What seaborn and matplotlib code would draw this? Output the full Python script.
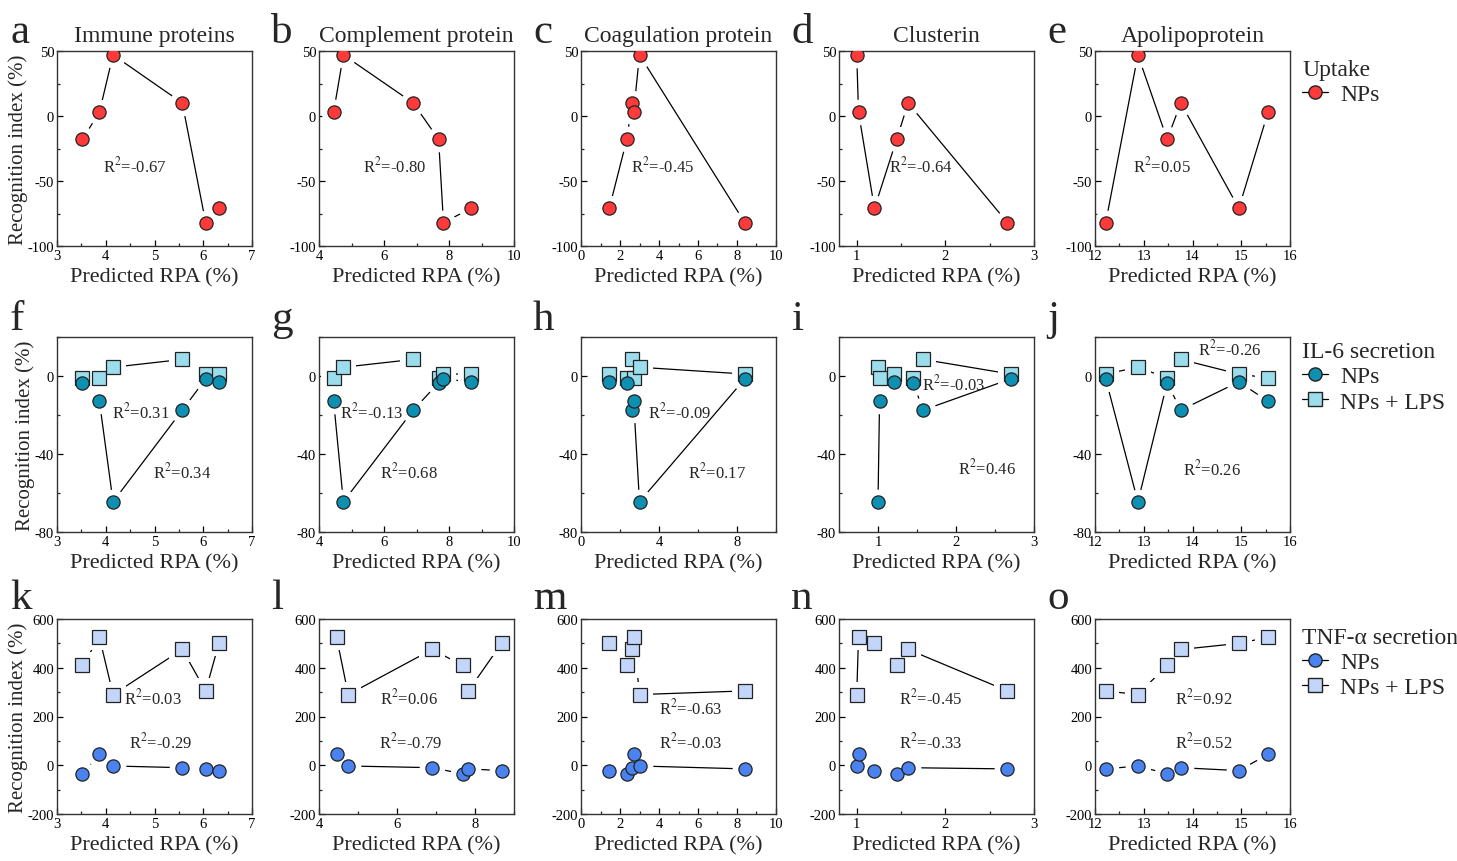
import numpy as np
import pandas as pd
import matplotlib
matplotlib.use("Agg")
import matplotlib.pyplot as plt
from matplotlib.lines import Line2D
from matplotlib.ticker import MultipleLocator
import seaborn as sns

sns.set_theme(style="white")
plt.rcParams['font.family'] = ['Liberation Serif', 'DejaVu Serif']
plt.rcParams['mathtext.fontset'] = 'stix'
plt.rcParams['axes.unicode_minus'] = False

# six nanoparticles (A..F), predicted RPA (%) per protein class
nps = ['A', 'B', 'C', 'D', 'E', 'F']
proteins = ['Immune proteins', 'Complement protein', 'Coagulation protein', 'Clusterin', 'Apolipoprotein']
rpa_immune = [4.15, 5.57, 3.87, 3.52, 6.32, 6.05]
rpa_complement = [4.75, 6.90, 4.45, 7.68, 8.68, 7.83]
rpa_coagulation = [3.00, 2.62, 2.70, 2.35, 1.45, 8.40]
rpa_clusterin = [1.00, 1.58, 1.02, 1.45, 1.20, 2.70]
rpa_apo = [12.88, 13.76, 15.55, 13.48, 14.95, 12.22]

# recognition index (%)
uptake_np = [47, 10, 3, -18, -71, -82]
il6_np = [-64.5, -17.5, -13, -3.5, -3, -1.5]
il6_lps = [4.5, 8.5, -1, -1, 1, 1]
tnf_np = [-3, -10, 45, -35, -22, -15]
tnf_lps = [290, 475, 525, 410, 500, 305]

# R2 labels per panel
r2_uptake = ['-0.67', '-0.80', '-0.45', '-0.64', '0.05']
r2_il6_np = ['0.34', '0.68', '0.17', '0.46', '0.26']
r2_il6_lps = ['0.31', '-0.13', '-0.09', '-0.03', '-0.26']
r2_tnf_np = ['-0.29', '-0.79', '-0.03', '-0.33', '0.52']
r2_tnf_lps = ['0.03', '0.06', '-0.63', '-0.45', '0.92']

letters = list('abcdefghijklmno')

df = pd.DataFrame({'np': nps,
                   'Immune proteins': rpa_immune,
                   'Complement protein': rpa_complement,
                   'Coagulation protein': rpa_coagulation,
                   'Clusterin': rpa_clusterin,
                   'Apolipoprotein': rpa_apo,
                   'uptake': uptake_np, 'il6_np': il6_np, 'il6_lps': il6_lps,
                   'tnf_np': tnf_np, 'tnf_lps': tnf_lps})

RED = '#FF3A3A'
TEAL = '#0E90B2'
CYAN = '#9BDDEC'
BLUE = '#4A83F0'
LAV = '#C3D6FA'
EDGE = '#222222'

# x-axis settings per column and row: (lim, major, minor)
xset = {
    0: [((3, 7), 1, 0.5)] * 3,
    1: [((4, 10), 2, 1), ((4, 10), 2, 1), ((4, 9), 2, 1)],
    2: [((0, 10), 2, 1), ((0, 10), 4, 2), ((0, 10), 2, 1)],
    3: [((0.8, 3), 1, 0.5), ((0.5, 3), 1, 0.5), ((0.8, 3), 1, 0.5)],
    4: [((12, 16), 1, 0.5)] * 3,
}
yset = [((-100, 50), 50, 25), ((-80, 20), 40, 20), ((-200, 600), 200, 100)]

rows = [
    [('uptake', RED, 'o')],
    [('il6_lps', CYAN, 's'), ('il6_np', TEAL, 'o')],
    [('tnf_lps', LAV, 's'), ('tnf_np', BLUE, 'o')],
]
r2_pos = [
    {'uptake': [(0.40, 0.415), (0.39, 0.415), (0.42, 0.415), (0.42, 0.415), (0.345, 0.415)]},
    {'il6_lps': [(0.43, 0.62), (0.27, 0.62), (0.505, 0.62), (0.59, 0.76), (0.69, 0.94)],
     'il6_np': [(0.64, 0.31), (0.46, 0.31), (0.70, 0.31), (0.76, 0.33), (0.60, 0.325)]},
    {'tnf_lps': [(0.49, 0.60), (0.46, 0.60), (0.56, 0.545), (0.47, 0.60), (0.56, 0.60)],
     'tnf_np': [(0.53, 0.37), (0.47, 0.37), (0.56, 0.37), (0.47, 0.37), (0.56, 0.37)]},
]
r2_text = [
    {'uptake': r2_uptake},
    {'il6_lps': r2_il6_lps, 'il6_np': r2_il6_np},
    {'tnf_lps': r2_tnf_lps, 'tnf_np': r2_tnf_np},
]

fig = plt.figure(figsize=(14.57, 8.62), dpi=100)
W, H = 1457, 862
col_left = [57, 319, 581, 839, 1095]
row_top = [52, 338, 620]
aw, ah = 195, 195
leg_y = [1.03, 1.05, 1.03]

for r in range(3):
    for c in range(5):
        ax = fig.add_axes([col_left[c] / W, 1 - (row_top[r] + ah) / H, aw / W, ah / H])
        xcol = proteins[c]
        d = df.sort_values(xcol)
        for key, color, mk in rows[r]:
            sns.lineplot(data=d, x=xcol, y=key, sort=True, color='black', lw=0.9,
                         ax=ax, zorder=1, legend=False)
        for key, color, mk in rows[r]:
            ms = 9.5 if mk == 'o' else 10
            ax.plot(d[xcol], d[key], ls='none', marker=mk, ms=ms + 9, mfc='white',
                    mec='white', mew=0, zorder=2)
        for key, color, mk in rows[r]:
            ms = 9.5 if mk == 'o' else 10
            ax.plot(d[xcol], d[key], ls='none', marker=mk, ms=ms, mfc=color,
                    mec=EDGE, mew=0.9, zorder=3)
        for key in r2_text[r]:
            px, py = r2_pos[r][key][c]
            ax.text(px, py, 'R$^2$=' + r2_text[r][key][c], transform=ax.transAxes,
                    ha='center', va='center', fontsize=12, zorder=4)

        (x0, x1), xmaj, xmin = xset[c][r]
        (y0, y1), ymaj, ymin = yset[r]
        ax.set_xlim(x0, x1)
        ax.set_ylim(y0, y1)
        ax.xaxis.set_major_locator(MultipleLocator(xmaj))
        ax.xaxis.set_minor_locator(MultipleLocator(xmin))
        ax.yaxis.set_major_locator(MultipleLocator(ymaj))
        ax.yaxis.set_minor_locator(MultipleLocator(ymin))
        ax.tick_params(which='major', direction='in', length=4, width=0.9, labelsize=10.5,
                       pad=2, bottom=True, left=True, colors='black')
        ax.tick_params(which='minor', direction='in', length=2.5, width=0.9, bottom=True, left=True)
        for s in ax.spines.values():
            s.set_color('#333333')
            s.set_linewidth(1.0)
        ax.set_xlabel('Predicted RPA (%)', fontsize=16, labelpad=4)
        if c == 0:
            ax.set_ylabel('Recognition index (%)', fontsize=15, labelpad=0)
        else:
            ax.set_ylabel('')
        if r == 0:
            ax.set_title(proteins[c], fontsize=17, pad=7)

        # panel letter
        lx = col_left[c] - 48 if c else 10
        ly = [43, 330, 609][r]
        fig.text(lx / W, 1 - ly / H, letters[r * 5 + c], fontsize=31, ha='left', va='baseline')

        if c == 4:
            if r == 0:
                handles = [Line2D([], [], color='black', lw=0.9, marker='o', ms=9.5,
                                  mfc=RED, mec=EDGE)]
                labels = ['NPs']
                title = 'Uptake'
            elif r == 1:
                handles = [Line2D([], [], color='black', lw=0.9, marker='o', ms=9.5, mfc=TEAL, mec=EDGE),
                           Line2D([], [], color='black', lw=0.9, marker='s', ms=10, mfc=CYAN, mec=EDGE)]
                labels = ['NPs', 'NPs + LPS']
                title = 'IL-6 secretion'
            else:
                handles = [Line2D([], [], color='black', lw=0.9, marker='o', ms=9.5, mfc=BLUE, mec=EDGE),
                           Line2D([], [], color='black', lw=0.9, marker='s', ms=10, mfc=LAV, mec=EDGE)]
                labels = ['NPs', 'NPs + LPS']
                title = 'TNF-α secretion'
            leg = ax.legend(handles, labels, title=title, loc='upper left',
                            bbox_to_anchor=(0.99, leg_y[r]), frameon=False, fontsize=17,
                            title_fontsize=17, handlelength=1.1, handletextpad=0.5,
                            labelspacing=0.15, borderaxespad=0.2)
            leg._legend_box.align = 'left'

fig.savefig('out.png', dpi=100)
